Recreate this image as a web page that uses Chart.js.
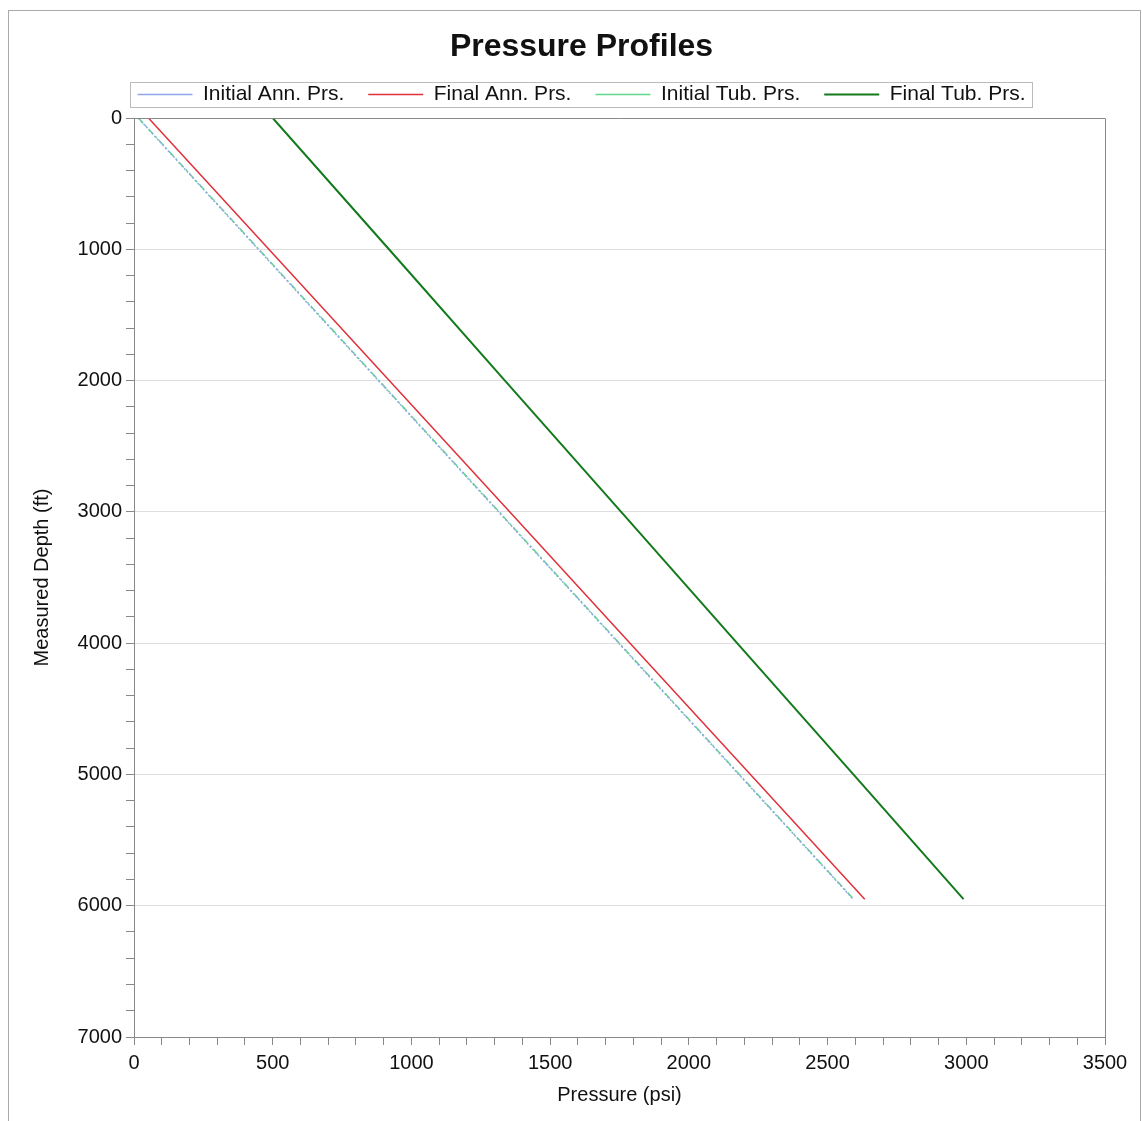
<!DOCTYPE html>
<html>
<head>
<meta charset="utf-8">
<script src="https://cdn.jsdelivr.net/npm/chart.js@4.4.1/dist/chart.umd.min.js"></script>
<style>
  body { margin: 0; background: #fff; }
  #wrap { position: absolute; left: 0; top: 0; width: 1142px; height: 1121px; }
  #frame { position: absolute; left: 8px; top: 10px; width: 1131px; height: 1130px; border: 1px solid #aaa; pointer-events: none; }
</style>
</head>
<body>
<div id="frame"></div>
<div id="wrap"><canvas id="chart"></canvas></div>
<script>
// depth (ft) and pressures (psi)
const depths = [0, 1000, 2000, 3000, 4000, 5000, 5950];
const initialAnnPrs = [15, 448, 881, 1314, 1747, 2180, 2592];
const finalAnnPrs = [52, 486, 920, 1354, 1788, 2222, 2634];
const initialTubPrs = [16, 450, 883, 1316, 1749, 2182, 2594];
const finalTubPrs = [500, 919, 1337, 1756, 2174, 2593, 2990];

const seriesNames = ['Initial Ann. Prs.', 'Final Ann. Prs.', 'Initial Tub. Prs.', 'Final Tub. Prs.'];

const toPoints = (pressures) => pressures.map((p, i) => ({ x: p, y: depths[i] }));

Chart.defaults.font.family = '"Liberation Sans", Arial, sans-serif';
Chart.defaults.color = '#111';

// outline around the legend items and the top/right edges of the plot
const frames = {
  id: 'frames',
  afterDraw(chart) {
    const ctx = chart.ctx;
    const a = chart.chartArea;
    ctx.save();
    ctx.strokeStyle = '#888';
    ctx.lineWidth = 1;
    ctx.beginPath();
    ctx.moveTo(a.left, a.top + 0.5);
    ctx.lineTo(a.right + 0.5, a.top + 0.5);
    ctx.lineTo(a.right + 0.5, a.bottom);
    ctx.stroke();

    const boxes = chart.legend.legendHitBoxes;
    if (boxes && boxes.length) {
      const left = Math.min(...boxes.map((b) => b.left)) - 8;
      const right = Math.max(...boxes.map((b) => b.left + b.width)) + 6;
      const mid = boxes[0].top + boxes[0].height / 2;
      ctx.strokeStyle = '#bbb';
      ctx.strokeRect(Math.round(left) + 0.5, Math.round(mid - 12.5) + 0.5, Math.round(right - left), 25);
    }
    ctx.restore();
  },
};

// empty axis used only to reserve a few pixels of room
const spacerAxis = (position, size) => ({
  type: 'linear',
  position,
  afterFit: (scale) => {
    if (scale.isHorizontal()) scale.height = size;
    else scale.width = size;
  },
  grid: { display: false },
  ticks: { display: false },
  border: { display: false },
});

new Chart(document.getElementById('chart'), {
  type: 'scatter',
  data: {
    datasets: [
      {
        label: seriesNames[0],
        data: toPoints(initialAnnPrs),
        showLine: true,
        borderColor: '#8fa8e8',
        borderWidth: 1.5,
        borderDash: [2, 2],
        pointRadius: 0,
      },
      {
        label: seriesNames[1],
        data: toPoints(finalAnnPrs),
        showLine: true,
        borderColor: '#e0303a',
        borderWidth: 1.5,
        pointRadius: 0,
      },
      {
        label: seriesNames[2],
        data: toPoints(initialTubPrs),
        showLine: true,
        borderColor: '#5fd88a',
        borderWidth: 1.5,
        borderDash: [7, 3, 2, 3],
        pointRadius: 0,
      },
      {
        label: seriesNames[3],
        data: toPoints(finalTubPrs),
        showLine: true,
        borderColor: '#137a1c',
        borderWidth: 2,
        pointRadius: 0,
      },
    ],
  },
  options: {
    responsive: true,
    maintainAspectRatio: false,
    animation: false,
    layout: { padding: { left: 40, right: 19, top: 0, bottom: 12 } },
    plugins: {
      title: {
        display: true,
        text: 'Pressure Profiles',
        color: '#111',
        font: { size: 32, weight: 'bold', lineHeight: 1 },
        padding: { top: 31, bottom: -3 },
      },
      legend: {
        labels: {
          usePointStyle: true,
          pointStyle: 'line',
          pointStyleWidth: 55,
          padding: 24,
          font: { size: 21 },
          color: '#111',
        },
      },
      tooltip: { enabled: false },
    },
    scales: {
      x: {
        type: 'linear',
        min: 0,
        max: 3500,
        afterFit: (scale) => { scale.height = 72; },
        ticks: {
          stepSize: 100,
          autoSkip: false,
          maxRotation: 0,
          padding: 6,
          font: { size: 20 },
          callback: (v) => (v % 500 === 0 ? v : ''),
        },
        grid: {
          drawOnChartArea: false,
          color: '#888',
          tickLength: 8,
        },
        border: { color: '#888' },
        title: { display: true, text: 'Pressure (psi)', font: { size: 20 }, padding: { top: 4, bottom: 2 } },
      },
      y: {
        type: 'linear',
        reverse: true,
        min: 0,
        max: 7000,
        afterFit: (scale) => { scale.width = 134 - 40; },
        ticks: {
          stepSize: 200,
          autoSkip: false,
          padding: 4,
          font: { size: 20 },
          callback: (v) => (v % 1000 === 0 ? v : ''),
        },
        grid: {
          color: (c) => (c.tick && c.tick.value % 1000 === 0 && c.tick.value > 0 && c.tick.value < 7000 ? '#dedede' : 'rgba(0,0,0,0)'),
          tickColor: '#888',
          tickLength: 8,
        },
        border: { color: '#888' },
        title: { display: true, text: 'Measured Depth (ft)', font: { size: 20 }, padding: { top: -10, bottom: 4 } },
      },
      spacerRight: spacerAxis('right', 18),
      spacerTop: spacerAxis('top', 3),
    },
  },
  plugins: [frames],
});
</script>
</body>
</html>
